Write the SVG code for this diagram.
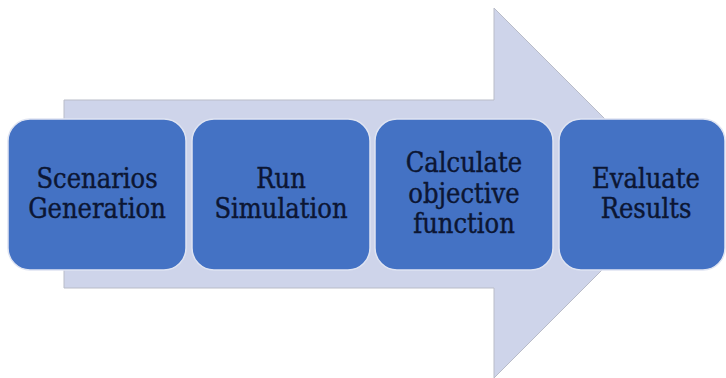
<svg xmlns="http://www.w3.org/2000/svg" width="726" height="378" viewBox="0 0 726 378">
<style>
.box{fill:#4472C4;stroke:#dfe4f2;stroke-width:1.5}
.t{font-family:"DejaVu Serif Condensed","DejaVu Serif","Liberation Serif",serif;font-stretch:condensed;font-size:27px;fill:#0c1633;stroke:#0c1633;stroke-width:0.4;text-anchor:middle}
</style>
<rect width="726" height="378" fill="#ffffff"/>
<g id="connectors">
<polygon points="64,100 494,100 494,8 679,193 494,378 494,288 64,288" fill="#CED4EA" stroke="#b9bcc8" stroke-width="1"/>
</g>
<g id="n1">
<rect class="box" x="8" y="119" width="178" height="151" rx="22"/>
<text class="t" x="97" y="188">Scenarios</text>
<text class="t" x="97" y="218">Generation</text>
</g>
<g id="n2">
<rect class="box" x="192" y="119" width="178" height="151" rx="22"/>
<text class="t" x="281" y="188">Run</text>
<text class="t" x="281" y="218">Simulation</text>
</g>
<g id="n3">
<rect class="box" x="375" y="119" width="178" height="151" rx="22"/>
<text class="t" x="464" y="172">Calculate</text>
<text class="t" x="464" y="203">objective</text>
<text class="t" x="464" y="233">function</text>
</g>
<g id="n4">
<rect class="box" x="559" y="119" width="166" height="151" rx="22"/>
<text class="t" x="646" y="188">Evaluate</text>
<text class="t" x="646" y="218">Results</text>
</g>
</svg>
